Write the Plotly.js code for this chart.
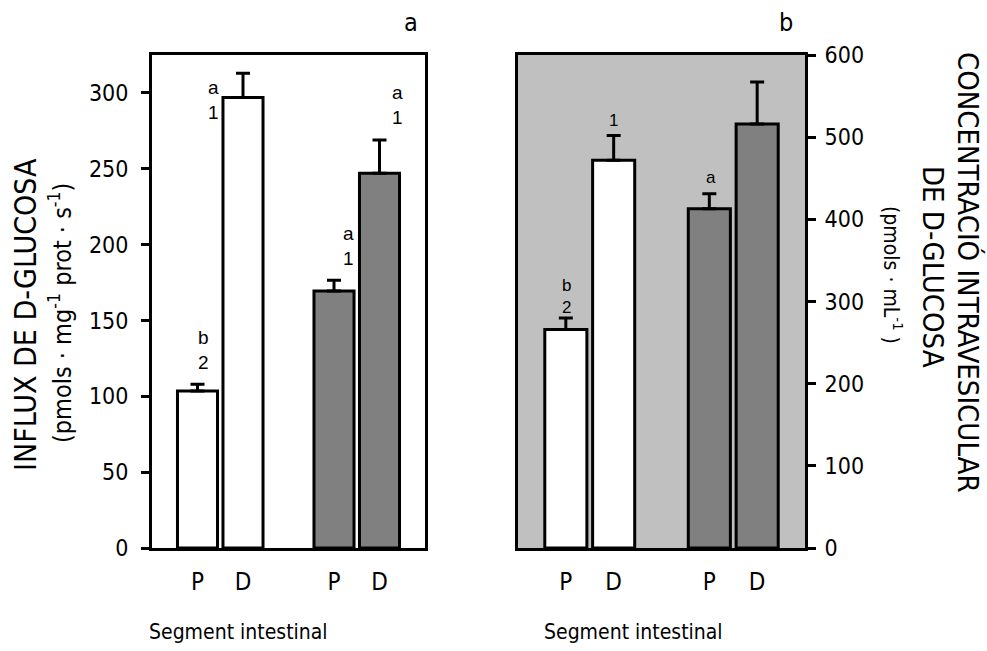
<!DOCTYPE html>
<html>
<head>
<meta charset="utf-8">
<script src="https://cdn.plot.ly/plotly-3.0.1.min.js"></script>
<style>html,body{margin:0;padding:0;background:#fff;}#chart{width:987px;height:651px;}</style>
</head>
<body>
<div id="chart"></div>
<script>
// ---- data ----
const segments = ['P', 'D', 'P', 'D'];
const groupOf = [0, 0, 1, 1];               // first pair / second pair
const influx = [103.5, 297, 169.5, 247];
const influxErr = [4.5, 16, 7, 22];
const influxLetters = ['b<br>2', 'a<br>1', 'a<br>1', 'a<br>1'];
const conc = [266, 472, 413, 516];
const concErr = [14, 30, 18, 51];
const concLetters = ['b<br>2', '1', 'a', ''];
const influxTicks = [0, 50, 100, 150, 200, 250, 300];
const concTicks = [0, 100, 200, 300, 400, 500, 600];

// ---- helpers ----
const FONT = '"Liberation Sans Narrow", "DejaVu Sans Condensed", "Liberation Sans", Arial, sans-serif';
const FONT2 = '"Liberation Sans", Arial, sans-serif';
const xpos = segments.map((s, i) => i + 1 + groupOf[i]);   // gap between pairs
const groupFill = ['#ffffff', '#808080'];

function makeTraces(vals, errs, xa, ya) {
  const traces = [];
  [0, 1].forEach(g => {
    const idx = vals.map((v, i) => i).filter(i => groupOf[i] === g);
    traces.push({
      type: 'bar',
      x: idx.map(i => xpos[i]),
      y: idx.map(i => vals[i]),
      width: 0.88,
      xaxis: xa, yaxis: ya,
      marker: {color: groupFill[g], line: {color: '#000', width: 3}},
      error_y: {type: 'data', symmetric: false, array: idx.map(i => errs[i]),
                arrayminus: idx.map(() => 0), color: '#000', thickness: 3, width: 7},
      showlegend: false, hoverinfo: 'skip'
    });
  });
  return traces;
}

const data = [].concat(makeTraces(influx, influxErr, 'x', 'y'), makeTraces(conc, concErr, 'x2', 'y2'));

// annotation offsets (px) per bar
const infShift = [[6, 34], [-30, -27], [14, 34], [18, 35]];
const concShift = [[1, 21], [0, 15], [2, 16], [0, 16]];

const annotations = [];
influxLetters.forEach((t, i) => {
  if (!t) return;
  annotations.push({xref: 'x', yref: 'y', x: xpos[i], y: influx[i] + influxErr[i], text: t,
    showarrow: false, xanchor: 'center', yanchor: 'middle', xshift: infShift[i][0], yshift: infShift[i][1],
    font: {family: FONT2, size: 19, color: '#000'}});
});
concLetters.forEach((t, i) => {
  if (!t) return;
  annotations.push({xref: 'x2', yref: 'y2', x: xpos[i], y: conc[i] + concErr[i], text: t,
    showarrow: false, xanchor: 'center', yanchor: 'middle', xshift: concShift[i][0], yshift: concShift[i][1],
    font: {family: FONT2, size: 17, color: '#000'}});
});

function paperAnn(px, py, text, size, angle) {
  return {xref: 'paper', yref: 'paper', x: px / 987, y: 1 - py / 651, text: text, showarrow: false,
    xanchor: 'center', yanchor: 'middle', textangle: angle || 0,
    font: {family: FONT, size: size, color: '#000'}};
}
annotations.push(paperAnn(411, 22, 'a', 25));
annotations.push(paperAnn(786, 22, 'b', 25));
annotations.push(paperAnn(238, 632, 'Segment intestinal', 21));
annotations.push(paperAnn(633, 632, 'Segment intestinal', 21));
annotations.push(paperAnn(25, 315, 'INFLUX DE D-GLUCOSA', 30, -90));
annotations.push(paperAnn(61, 313, '(pmols · mg<sup>-1</sup> prot · s<sup>-1</sup>)', 25, -90));
annotations.push(paperAnn(968, 272, 'CONCENTRACIÓ INTRAVESICULAR', 29, 90));
annotations.push(paperAnn(933, 267, 'DE D-GLUCOSA', 29, 90));
annotations.push(paperAnn(893, 275, '(pmols · mL<sup>-1</sup> )', 21, 90));

const xCommon = {range: [0, 6], showgrid: false, zeroline: false, showline: true, mirror: true,
  linecolor: '#000', linewidth: 3, ticks: '', tickvals: xpos, ticktext: segments,
  ticklabelstandoff: 10, tickfont: {family: FONT, size: 24, color: '#000'}, fixedrange: true};
const yDom = [1 - 548 / 651, 1 - 55 / 651];

const layout = {
  width: 987, height: 651,
  margin: {l: 0, r: 0, t: 0, b: 0},
  paper_bgcolor: '#fff', plot_bgcolor: '#fff',
  showlegend: false,
  xaxis: Object.assign({}, xCommon, {domain: [152 / 987, 425 / 987], anchor: 'y'}),
  xaxis2: Object.assign({}, xCommon, {domain: [518 / 987, 805 / 987], anchor: 'y2'}),
  yaxis: {domain: yDom, range: [0, 325], anchor: 'x', tickvals: influxTicks, ticks: 'outside', ticklen: 8,
    tickwidth: 3, tickcolor: '#000', showgrid: false, zeroline: false, showline: true, mirror: true,
    linecolor: '#000', linewidth: 3, tickfont: {family: FONT, size: 23, color: '#000'}, ticklabelstandoff: 8},
  yaxis2: {domain: yDom, range: [0, 600], anchor: 'x2', side: 'right', tickvals: concTicks, ticks: 'outside', ticklen: 8,
    tickwidth: 3, tickcolor: '#000', showgrid: false, zeroline: false, showline: true, mirror: true,
    linecolor: '#000', linewidth: 3, tickfont: {family: FONT, size: 23, color: '#000'}, ticklabelstandoff: 4},
  shapes: [{type: 'rect', xref: 'x2 domain', yref: 'y2 domain', x0: 0, x1: 1, y0: 0, y1: 1,
    fillcolor: '#c0c0c0', line: {width: 0}, layer: 'below'}],
  annotations: annotations
};

Plotly.newPlot('chart', data, layout, {staticPlot: true, displayModeBar: false});
</script>
</body>
</html>
